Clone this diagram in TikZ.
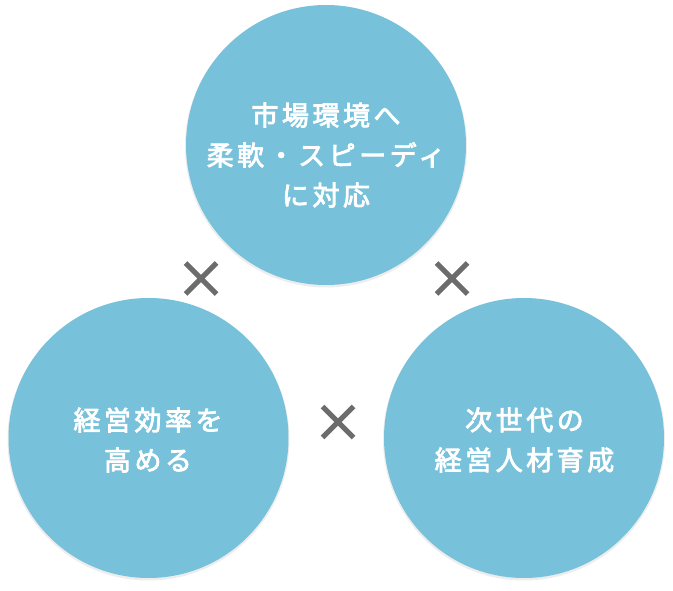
\documentclass[tikz,border=0pt]{standalone}
\usepackage{fontspec}
\newfontfamily\cjk[LetterSpace=13,FakeBold=3]{Noto Sans CJK JP}
\usetikzlibrary{shapes.misc}
\definecolor{blobblue}{RGB}{119,193,218}
\definecolor{crossgray}{RGB}{108,108,108}
\begin{document}
\begin{tikzpicture}[x=1pt,y=-1pt,
  blob/.style={circle,fill=blobblue,minimum size=280pt,inner sep=0pt},
  blobshadow/.style={circle,fill=black,fill opacity=0.07,minimum size=282pt,inner sep=0pt},
  txt/.style={text=white,align=center,inner sep=0pt,font={\cjk\fontsize{27}{40}\selectfont}},
  times/.style={cross out,draw=crossgray,line width=5pt,minimum size=26pt,inner sep=0pt}]
\useasboundingbox (0,0) rectangle (673,591);
% shadows
\node[blobshadow] (tops) at (326,146.5) {};
\node[blobshadow] (lefts) at (148.5,439.5) {};
\node[blobshadow] (rights) at (524,439.5) {};
% circles
\node[blob] (top) at (326,145) {};
\node[blob] (left) at (148.5,438) {};
\node[blob] (right) at (524,438) {};
% texts
\node[txt] (toptext) at (326,155) {市場環境へ\\柔軟・スピーディ\\に対応};
\node[txt] (lefttext) at (148,440) {経営効率を\\高める};
\node[txt] (righttext) at (524.5,440) {次世代の\\経営人材育成};
% crosses
\node[times] (x1) at (201,278.5) {};
\node[times] (x2) at (452,278.5) {};
\node[times] (x3) at (338,422) {};
\end{tikzpicture}
\end{document}
